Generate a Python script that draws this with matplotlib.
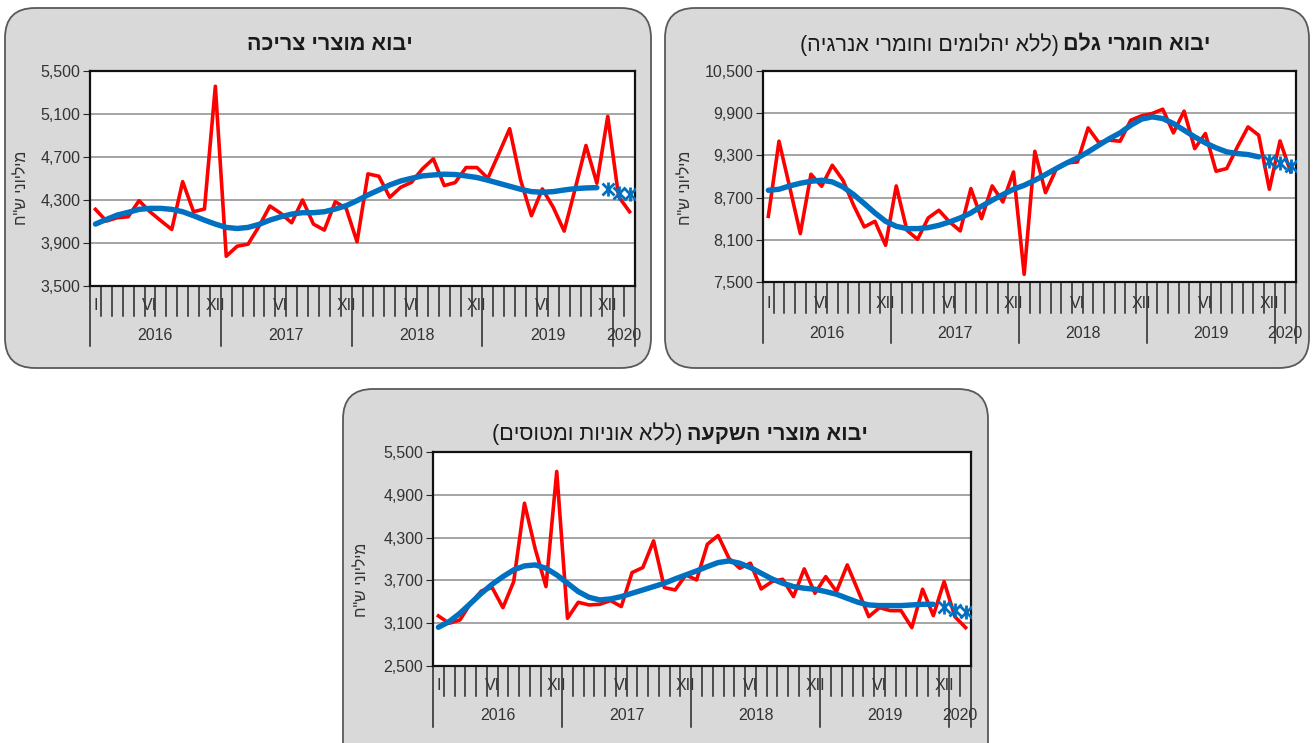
import matplotlib.pyplot as plt
import numpy as np
from matplotlib.patches import FancyBboxPatch
from matplotlib.transforms import IdentityTransform

plt.rcParams['font.family'] = ['Liberation Sans', 'DejaVu Sans']

W, H = 1313, 743

# --- data (millions NIS), Jan 2016 .. Feb 2020 ---
consumer = [4213, 4104, 4135, 4144, 4294, 4191, 4107, 4026, 4471, 4191, 4216, 5358,
            3777, 3870, 3889, 4054, 4244, 4176, 4088, 4300, 4076, 4020, 4284, 4222,
            3911, 4543, 4521, 4325, 4418, 4465, 4590, 4683, 4434, 4462, 4602, 4602,
            4502, 4730, 4963, 4487, 4154, 4403, 4232, 4011, 4400, 4807, 4456, 5078,
            4331, 4191]
consumer_trend = [4076, 4119, 4160, 4185, 4213, 4222, 4222, 4213, 4191, 4154, 4113, 4076,
                  4045, 4035, 4045, 4073, 4113, 4144, 4169, 4182, 4182, 4191, 4216, 4247,
                  4294, 4347, 4393, 4440, 4477, 4502, 4524, 4533, 4540, 4537, 4524, 4509,
                  4484, 4456, 4428, 4400, 4378, 4372, 4378, 4393, 4406, 4412, 4415]
consumer_est = [4403, 4362, 4353]

raw = [8434, 9502, 8852, 8188, 9032, 8861, 9160, 8947, 8591, 8283, 8363, 8022,
       8866, 8235, 8107, 8411, 8520, 8354, 8226, 8828, 8401, 8866, 8638, 9065,
       7609, 9359, 8771, 9103, 9193, 9207, 9691, 9483, 9516, 9502, 9800, 9862,
       9895, 9957, 9620, 9929, 9397, 9611, 9075, 9113, 9421, 9705, 9587, 8819,
       9506, 9065]
raw_trend = [8804, 8819, 8866, 8904, 8932, 8947, 8923, 8852, 8743, 8615, 8482, 8363,
             8292, 8259, 8259, 8273, 8306, 8354, 8411, 8482, 8577, 8662, 8743, 8819,
             8875, 8947, 9027, 9113, 9193, 9264, 9350, 9445, 9539, 9620, 9729, 9815,
             9848, 9824, 9753, 9658, 9563, 9478, 9407, 9350, 9326, 9312, 9279]
raw_est = [9222, 9193, 9151]

invest = [3202, 3099, 3145, 3379, 3552, 3599, 3318, 3683, 4782, 4142, 3613, 5227,
          3169, 3393, 3356, 3365, 3417, 3333, 3810, 3880, 4254, 3599, 3566, 3777,
          3707, 4207, 4329, 4011, 3870, 3941, 3580, 3683, 3716, 3473, 3861, 3520,
          3753, 3543, 3917, 3557, 3192, 3318, 3276, 3276, 3038, 3576, 3206, 3683,
          3192, 3038]
invest_trend = [3043, 3122, 3239, 3379, 3520, 3646, 3753, 3847, 3903, 3917, 3870, 3777,
                3660, 3543, 3463, 3426, 3440, 3473, 3520, 3566, 3613, 3660, 3721, 3777,
                3833, 3894, 3950, 3973, 3941, 3880, 3800, 3721, 3660, 3613, 3590, 3576,
                3543, 3506, 3449, 3393, 3356, 3347, 3347, 3347, 3356, 3365, 3365]
invest_est = [3333, 3286, 3262]

month_labels = (['I', '', '', '', '', 'VI', '', '', '', '', '', 'XII']
                + ['', '', '', '', '', 'VI', '', '', '', '', '', 'XII'] * 3
                + ['', ''])
years = ['2016', '2017', '2018', '2019', '2020']
year_months = [12, 12, 12, 12, 2]

ylabel = 'מיליוני ש"ח'


def heb(s):
    # matplotlib has no bidi: give it the visual order
    s = s[::-1]
    return s.translate(str.maketrans('()', ')('))


fig = plt.figure(figsize=(W / 100, H / 100), dpi=100)
fig.patch.set_facecolor('white')


def box(x0, y0, x1, y1):
    p = FancyBboxPatch((x0 + 30, H - y1 + 30), x1 - x0 - 60, y1 - y0 - 60,
                       boxstyle='round,pad=30', transform=IdentityTransform(),
                       facecolor='#d9d9d9', edgecolor='#595959', lw=1.3, zorder=-5)
    fig.patches.append(p)


def title(cx, cy, bold, reg=None, fs=15.5):
    r = fig.canvas.get_renderer()
    tb = fig.text(0, 1 - cy / H, heb(bold), ha='left', va='center', fontsize=fs,
                  fontweight='bold', color='#1a1a1a')
    wb = tb.get_window_extent(r).width
    if reg is None:
        tb.set_x((cx - wb / 2) / W)
        return
    tr = fig.text(0, 1 - cy / H, heb(reg), ha='left', va='center', fontsize=fs,
                  color='#1a1a1a')
    wr = tr.get_window_extent(r).width
    gap = 4
    x0 = cx - (wr + gap + wb) / 2
    tr.set_x(x0 / W)
    tb.set_x((x0 + wr + gap) / W)


def panel(l, t, r, b, vals, trend, est, ymin, ymax, step, ylab_xy, sub=(20, 30, 49, 60)):
    ax = fig.add_axes([l / W, 1 - b / H, (r - l) / W, (b - t) / H])
    hpx = b - t
    x = np.arange(len(vals)) + 0.5
    xt = np.arange(len(trend)) + 0.5
    xe = np.arange(len(trend), len(trend) + len(est)) + 0.5
    ax.plot(x, vals, color='#ff0000', lw=2.6, zorder=3)
    ax.plot(xt, trend, color='#0070c0', lw=3.9, solid_capstyle='round', zorder=4)
    ax.plot(xe, est, ls='none', marker='x', ms=8, mew=2, color='#0070c0', zorder=5)
    ax.plot(xe, est, ls='none', marker='|', ms=10, mew=2, color='#0070c0', zorder=5)
    ax.set_xlim(0, len(vals))
    ax.set_ylim(ymin, ymax)
    ticks = np.arange(ymin, ymax + 1, step)
    ax.set_yticks(ticks)
    ax.set_yticklabels([f'{v:,}' for v in ticks])
    ax.yaxis.grid(True, color='#8c8c8c', lw=1.1)
    ax.set_axisbelow(True)
    ax.set_xticks([])
    ax.tick_params(axis='y', labelsize=11.5, labelcolor='#333333', pad=2, length=5,
                   color='#262626')
    for s in ax.spines.values():
        s.set_color('#111111')
        s.set_linewidth(1.6)

    lab_off, tick_len, year_off, sep_len = sub
    tr = ax.get_xaxis_transform()
    bounds = np.cumsum([0] + year_months)
    for k in range(len(vals) + 1):
        ln = sep_len if k in bounds else tick_len
        ax.plot([k, k], [0, -ln / hpx], transform=tr, clip_on=False,
                color='#262626', lw=1.1)
    for i, lab in enumerate(month_labels):
        if lab:
            ax.text(i + 0.5, -lab_off / hpx, lab, transform=tr, ha='center',
                    va='center', fontsize=11.5, color='#333333')
    for y, a, n in zip(years, bounds[:-1], year_months):
        ax.text(a + n / 2, -year_off / hpx, y, transform=tr, ha='center',
                va='center', fontsize=11.5, color='#333333')
    fig.text(ylab_xy[0] / W, 1 - ylab_xy[1] / H, heb(ylabel), rotation=90,
             ha='center', va='center', fontsize=11.5, color='#333333')
    return ax


box(5, 8, 651, 368)
box(665, 8, 1309, 368)
box(343, 389, 988, 775)

panel(90, 71, 635, 286, consumer, consumer_trend, consumer_est,
      3500, 5500, 400, (22, 188))
panel(763, 71, 1296, 282, raw, raw_trend, raw_est,
      7500, 10500, 600, (686, 188), sub=(22, 31, 52, 61))
panel(433, 452, 971, 666, invest, invest_trend, invest_est,
      2500, 5500, 600, (362, 580), sub=(19, 30, 50, 61))

title(330, 44, 'יבוא מוצרי צריכה')
title(1005, 45, 'יבוא חומרי גלם', '(ללא יהלומים וחומרי אנרגיה)')
title(680, 434, 'יבוא מוצרי השקעה', '(ללא אוניות ומטוסים)')

fig.savefig('out.png', dpi=100)
